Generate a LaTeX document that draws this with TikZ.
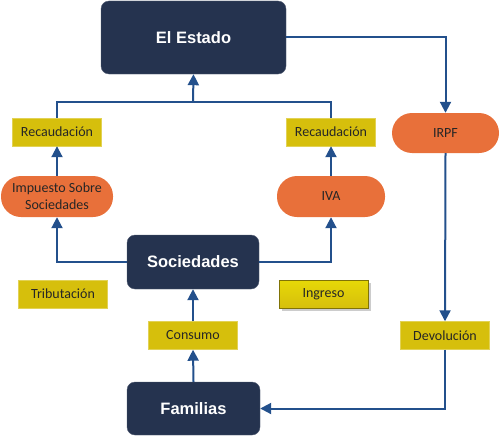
\documentclass[tikz,border=0pt]{standalone}
\usepackage{fontspec}
\setmainfont{Carlito}
\newfontfamily\boldsans{Liberation Sans}
\usetikzlibrary{arrows.meta,shadows}
\definecolor{navy}{HTML}{25334F}
\definecolor{orng}{HTML}{E8703A}
\definecolor{ylw}{HTML}{D6BF0C}
\definecolor{lnblue}{HTML}{23508C}
\tikzset{
  dark/.style={draw=navy!80!white, fill=navy, rounded corners=8pt, text=white, font=\boldsans\bfseries\fontsize{16.5}{19}\selectfont, minimum width=#1, inner sep=0pt},
  pill/.style={fill=orng, rounded corners=20pt, minimum width=108pt, minimum height=41pt, inner sep=0pt, align=center, font=\fontsize{14}{17}\selectfont, text=black!85},
  tag/.style={fill=ylw, draw=ylw!70!white, minimum width=89pt, minimum height=28pt, inner sep=0pt, font=\fontsize{14}{16}\selectfont, text=black!85},
  conn/.style={draw=lnblue, line width=2pt},
  arr/.style={conn, -{Triangle[length=11pt,width=11pt]}}
}
\begin{document}
\begin{tikzpicture}[x=1pt,y=-1pt]
\useasboundingbox (0,0) rectangle (500,436);
\node[dark=185pt, minimum height=73pt] (estado) at (193.5,37.5) {El Estado};
\node[dark=132pt, minimum height=54pt] (soc) at (193,262) {Sociedades};
\node[dark=133pt, minimum height=53pt] (fam) at (193.5,408.5) {Familias};
\node[tag] (rec1) at (57,132) {Recaudación};
\node[tag] (rec2) at (331,132) {Recaudación};
\node[pill, minimum width=112pt] (isoc) at (57,196.5) {Impuesto Sobre\\Sociedades};
\node[pill] (iva) at (331,196.5) {IVA};
\node[pill, minimum width=107pt, minimum height=40pt] (irpf) at (445.5,133) {IRPF};
\node[tag] (trib) at (63,294) {Tributación};
\node[tag, drop shadow={shadow xshift=2.5pt, shadow yshift=-2.5pt, fill=black!40}, top color=ylw!60!yellow, bottom color=ylw, draw=ylw!60!black] (ing) at (323.5,294) {Ingreso};
\node[tag] (cons) at (193,335.5) {Consumo};
\node[tag] (dev) at (445,335.5) {Devolución};
\coordinate (join) at (193,102);
\draw[conn] (rec1.north) |- (join);
\draw[conn] (rec2.north) |- (join);
\draw[arr] (join) -- (estado.south);
\draw[arr] (isoc.north) -- (rec1.south);
\draw[arr] (iva.north) -- (rec2.south);
\draw[arr] (soc.west) -| (isoc.south);
\draw[arr] (soc.east) -| (iva.south);
\draw[arr] (estado.east) -| (irpf.north);
\draw[arr] (irpf.south) -- (dev.north);
\draw[arr] (dev.south) |- (fam.east);
\draw[arr] (fam.north) -- (cons.south);
\draw[arr] (cons.north) -- (soc.south);
\end{tikzpicture}
\end{document}
